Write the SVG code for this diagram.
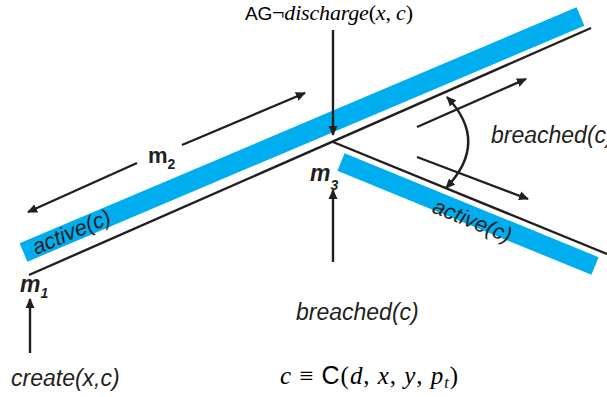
<svg xmlns="http://www.w3.org/2000/svg" width="607" height="397" viewBox="0 0 607 397">
<defs>
<marker id="ah" viewBox="0 0 10 10" refX="9" refY="5" markerWidth="10" markerHeight="10" markerUnits="userSpaceOnUse" orient="auto-start-reverse">
<path d="M0,0.5 L10,5 L0,9.5 Z" fill="#231f20"/>
</marker>
<style>
.ln{stroke:#231f20;stroke-width:2.4;fill:none}
.ar{stroke:#231f20;stroke-width:2.4;fill:none;marker-end:url(#ah)}
.band{stroke:#00aeef;stroke-width:20;stroke-linecap:butt}
.lab{font-family:"Liberation Sans",Arial,sans-serif;font-style:italic;font-size:23px;fill:#231f20}
.m{font-family:"Liberation Sans",Arial,sans-serif;font-style:italic;font-weight:bold;font-size:23px;fill:#231f20}
.sub{font-size:14px}
.math{font-family:"Liberation Serif","Times New Roman",serif;font-size:22px;fill:#000}
.sans{font-family:"Liberation Sans",Arial,sans-serif;font-style:normal}
</style>
</defs>
<rect width="607" height="397" fill="#fff"/>
<g id="band1">
<line class="band" x1="23.5" y1="252.5" x2="580.5" y2="16.5"/>
<text class="lab" transform="translate(36,255) rotate(-23)" style="font-size:22px">active(c)</text>
</g>
<g id="band2">
<line class="band" x1="341" y1="162" x2="595" y2="266" style="stroke-width:19"/>
<text class="lab" transform="translate(431,212) rotate(22)" style="font-size:22px">active(c)</text>
</g>
<g id="connectors">
<line class="ln" x1="29" y1="275" x2="591" y2="28"/>
<line class="ln" x1="333" y1="142" x2="607" y2="254"/>
<line class="ar" x1="333" y1="30" x2="333" y2="135"/>
<line class="ar" x1="333" y1="262" x2="333" y2="190"/>
<line class="ar" x1="30" y1="353" x2="30" y2="299"/>
<line class="ar" x1="182" y1="145" x2="305" y2="93"/>
<line class="ar" x1="137" y1="163" x2="28" y2="212"/>
<line class="ar" x1="417" y1="127" x2="526" y2="79"/>
<line class="ar" x1="417" y1="157" x2="528" y2="199"/>
<path class="ln" d="M447,97 Q490,142 446,188" style="marker-start:url(#ah);marker-end:url(#ah)"/>
</g>
<g id="labels">
<text class="m" x="20" y="292">m<tspan class="sub" dy="6">1</tspan></text>
<text class="m" x="148" y="163" style="font-style:normal;font-size:22px">m<tspan class="sub" dy="6">2</tspan></text>
<text class="m" x="310" y="181">m<tspan class="sub" dy="9">3</tspan></text>
<text class="lab" x="11" y="386">create(x,c)</text>
<text class="lab" x="296" y="320">breached(c)</text>
<text class="lab" x="491" y="143">breached(c)</text>
<text class="math" x="245" y="20" textLength="168" lengthAdjust="spacing"><tspan class="sans" style="font-size:19px">AG</tspan>¬<tspan font-style="italic">discharge</tspan>(<tspan font-style="italic">x</tspan>, <tspan font-style="italic">c</tspan>)</text>
<text class="math" x="280" y="384" style="font-size:25px" textLength="178" lengthAdjust="spacing"><tspan font-style="italic">c</tspan> ≡ <tspan class="sans" style="font-size:25px">C</tspan>(<tspan font-style="italic">d</tspan>, <tspan font-style="italic">x</tspan>, <tspan font-style="italic">y</tspan>, <tspan font-style="italic">p</tspan><tspan font-style="italic" style="font-size:16px" dy="4">t</tspan><tspan dy="-4">)</tspan></text>
</g>
</svg>
